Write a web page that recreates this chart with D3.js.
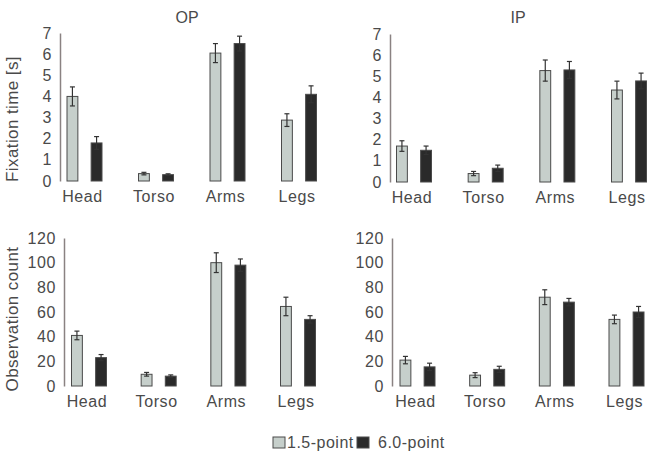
<!DOCTYPE html>
<html>
<head>
<meta charset="utf-8">
<script src="https://cdn.jsdelivr.net/npm/d3@7"></script>
<style>
  body { margin: 0; background: #fff; }
  svg { font-family: "Liberation Sans", Arial, sans-serif; }
</style>
</head>
<body>
<svg id="chart" width="657" height="454"></svg>
<script>
// categories and series
const categories = ["Head", "Torso", "Arms", "Legs"];
const series = ["1.5-point", "6.0-point"];

// fixation time [s]
const opTime15 = [4.0, 0.35, 6.05, 2.88];
const opTime60 = [1.8, 0.3, 6.5, 4.1];
const opTimeErr15 = [0.45, 0.06, 0.45, 0.3];
const opTimeErr60 = [0.3, 0.04, 0.35, 0.4];
const ipTime15 = [1.7, 0.4, 5.27, 4.35];
const ipTime60 = [1.5, 0.65, 5.3, 4.78];
const ipTimeErr15 = [0.25, 0.1, 0.5, 0.42];
const ipTimeErr60 = [0.2, 0.15, 0.4, 0.37];

// observation count
const opCount15 = [41, 9.5, 100, 64.5];
const opCount60 = [23, 8, 98, 54];
const opCountErr15 = [3.5, 1.5, 8, 7.5];
const opCountErr60 = [2.5, 1, 5, 3];
const ipCount15 = [21, 8.8, 72, 54];
const ipCount60 = [15.5, 13.5, 68, 60];
const ipCountErr15 = [3, 2, 6, 3.5];
const ipCountErr60 = [3, 2.5, 3, 4.5];

const timeTicks = [0, 1, 2, 3, 4, 5, 6, 7];
const countTicks = [0, 20, 40, 60, 80, 100, 120];

const fills = ["#c6cfcb", "#2a2a2a"];
const textColor = "#4a4a4a";

const svg = d3.select("#chart");

// one panel = one small bar chart with error bars
function drawPanel(opts) {
  const g = svg.append("g");

  let y = d3.scaleLinear().domain([0, opts.max]).range([opts.y0, opts.y1]);
  let x = d3.scalePoint().domain(categories).range(opts.xRange);
  let inner = d3.scaleBand().domain(series).range([-17.5, 17.5]).paddingInner(0.55);

  // y axis
  let axis = g.append("g")
    .attr("transform", "translate(" + opts.axisX + ",0)")
    .call(d3.axisLeft(y).tickValues(opts.ticks).tickFormat(d3.format("d")).tickSize(0).tickPadding(8));
  axis.select(".domain").attr("stroke", "#8a8282").attr("stroke-width", 1.5);
  axis.selectAll("text")
    .attr("fill", textColor)
    .style("font-size", "16px")
    .style("letter-spacing", "0.6px");

  let rows = categories.map((c, i) => ({
    cat: c,
    vals: [
      { s: series[0], v: opts.v15[i], e: opts.e15[i] },
      { s: series[1], v: opts.v60[i], e: opts.e60[i] }
    ]
  }));

  let groups = g.selectAll(".grp")
    .data(rows)
    .enter()
    .append("g")
    .attr("transform", d => "translate(" + x(d.cat) + ",0)");

  // bars
  groups.selectAll("rect")
    .data(d => d.vals)
    .enter()
    .append("rect")
    .attr("x", d => inner(d.s))
    .attr("y", d => y(d.v))
    .attr("width", inner.bandwidth())
    .attr("height", d => y(0) - y(d.v))
    .attr("fill", (d, i) => fills[i])
    .attr("stroke", "#4a4a4a")
    .attr("stroke-width", 1);

  // error bars
  let errs = groups.selectAll(".err")
    .data(d => d.vals)
    .enter()
    .append("g")
    .attr("stroke", "#333")
    .attr("stroke-width", 1.2);
  errs.append("line")
    .attr("x1", d => inner(d.s) + inner.bandwidth() / 2)
    .attr("x2", d => inner(d.s) + inner.bandwidth() / 2)
    .attr("y1", d => y(d.v - d.e))
    .attr("y2", d => y(d.v + d.e));
  errs.append("line")
    .attr("x1", d => inner(d.s) + inner.bandwidth() / 2 - 2.5)
    .attr("x2", d => inner(d.s) + inner.bandwidth() / 2 + 2.5)
    .attr("y1", d => y(d.v + d.e))
    .attr("y2", d => y(d.v + d.e));
  errs.append("line")
    .attr("x1", d => inner(d.s) + inner.bandwidth() / 2 - 2.5)
    .attr("x2", d => inner(d.s) + inner.bandwidth() / 2 + 2.5)
    .attr("y1", d => y(d.v - d.e))
    .attr("y2", d => y(d.v - d.e));

  // category labels
  g.selectAll(".cat")
    .data(categories)
    .enter()
    .append("text")
    .attr("x", d => x(d) - 2)
    .attr("y", opts.y0 + 21)
    .attr("text-anchor", "middle")
    .attr("fill", textColor)
    .style("font-size", "16px")
    .style("letter-spacing", "0.6px")
    .text(d => d);

  if (opts.title) {
    g.append("text")
      .attr("x", opts.titleX)
      .attr("y", 23)
      .attr("text-anchor", "middle")
      .attr("fill", textColor)
      .style("font-size", "16px")
      .text(opts.title);
  }
  if (opts.ylabel) {
    g.append("text")
      .attr("transform", "translate(18," + opts.ylabelY + ") rotate(-90)")
      .attr("text-anchor", "middle")
      .attr("fill", textColor)
      .style("font-size", "17px")
      .style("letter-spacing", "0.4px")
      .text(opts.ylabel);
  }
}

drawPanel({ max: 7, ticks: timeTicks, y0: 181, y1: 33, axisX: 60, xRange: [84.5, 299],
  v15: opTime15, v60: opTime60, e15: opTimeErr15, e60: opTimeErr60,
  title: "OP", titleX: 187, ylabel: "Fixation time [s]", ylabelY: 119 });
drawPanel({ max: 7, ticks: timeTicks, y0: 182, y1: 34, axisX: 390, xRange: [414, 629],
  v15: ipTime15, v60: ipTime60, e15: ipTimeErr15, e60: ipTimeErr60,
  title: "IP", titleX: 518 });
drawPanel({ max: 120, ticks: countTicks, y0: 386, y1: 238, axisX: 64, xRange: [89, 298],
  v15: opCount15, v60: opCount60, e15: opCountErr15, e60: opCountErr60,
  ylabel: "Observation count", ylabelY: 319 });
drawPanel({ max: 120, ticks: countTicks, y0: 386, y1: 238, axisX: 392, xRange: [417.5, 626.5],
  v15: ipCount15, v60: ipCount60, e15: ipCountErr15, e60: ipCountErr60 });

// legend
let legend = svg.append("g");
let legendX = [273, 357];
let legendTextX = [287, 378];
series.forEach((s, i) => {
  legend.append("rect")
    .attr("x", legendX[i])
    .attr("y", 437)
    .attr("width", 12)
    .attr("height", 11)
    .attr("fill", fills[i])
    .attr("stroke", "#4a4a4a");
  legend.append("text")
    .attr("x", legendTextX[i])
    .attr("y", 448)
    .attr("fill", textColor)
    .style("font-size", "16px")
    .style("letter-spacing", "0.5px")
    .text(s);
});
</script>
</body>
</html>
